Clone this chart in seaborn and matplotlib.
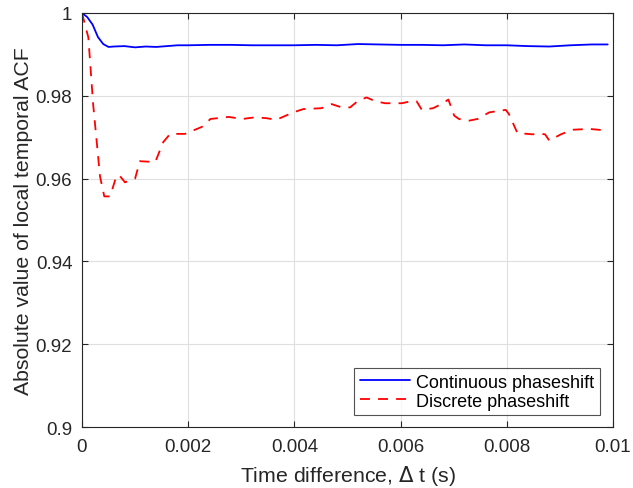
import numpy as np
import pandas as pd
import seaborn as sns
import matplotlib
matplotlib.use("Agg")
import matplotlib.pyplot as plt
from matplotlib.ticker import FuncFormatter

# ---- data ----
cont_t = [0.0, 0.0001, 0.0002, 0.0003, 0.0004, 0.0005, 0.0006, 0.0008, 0.0010,
          0.0012, 0.0014, 0.0016, 0.0018, 0.0020, 0.0024, 0.0028, 0.0032, 0.0036,
          0.0040, 0.0044, 0.0048, 0.0052, 0.0056, 0.0060, 0.0064, 0.0068, 0.0072,
          0.0076, 0.0080, 0.0084, 0.0088, 0.0092, 0.0096, 0.0099]
cont_v = [1.0, 0.9990, 0.9972, 0.9942, 0.9925, 0.9918, 0.9919, 0.9920, 0.9917,
          0.9919, 0.9918, 0.9920, 0.9922, 0.9922, 0.9923, 0.9923, 0.9922, 0.9922,
          0.9922, 0.9923, 0.9922, 0.9925, 0.9924, 0.9923, 0.9923, 0.9922, 0.9924,
          0.9922, 0.9922, 0.9920, 0.9919, 0.9922, 0.9924, 0.9924]

disc_t = [0.0, 0.00012, 0.00021, 0.00034, 0.00042, 0.00053, 0.00065, 0.00071,
          0.00081, 0.00100, 0.00109, 0.00138, 0.00153, 0.00166, 0.00194, 0.00226,
          0.00242, 0.00276, 0.00302, 0.00326, 0.00347, 0.00366, 0.00398, 0.00417,
          0.00451, 0.00470, 0.00489, 0.00505, 0.00520, 0.00536, 0.00552, 0.00571,
          0.00602, 0.00624, 0.00630, 0.00640, 0.00661, 0.00677, 0.00690, 0.00701,
          0.00710, 0.00729, 0.00745, 0.00767, 0.00798, 0.00804, 0.00820, 0.00848,
          0.00864, 0.00872, 0.00880, 0.00902, 0.00924, 0.00955, 0.00990]
disc_v = [1.0, 0.9941, 0.9780, 0.9605, 0.9557, 0.9557, 0.9607, 0.9607,
          0.9591, 0.9600, 0.9642, 0.9640, 0.9688, 0.9708, 0.9708, 0.9725,
          0.9744, 0.9749, 0.9744, 0.9748, 0.9746, 0.9742, 0.9760, 0.9768,
          0.9770, 0.9780, 0.9772, 0.9772, 0.9788, 0.9796, 0.9787, 0.9782,
          0.9782, 0.9788, 0.9787, 0.9766, 0.9770, 0.9780, 0.9791, 0.9752,
          0.9744, 0.9740, 0.9744, 0.9760, 0.9766, 0.9756, 0.9710, 0.9707,
          0.9708, 0.9707, 0.9692, 0.9707, 0.9718, 0.9720, 0.9716]

x_ticks = [0, 0.002, 0.004, 0.006, 0.008, 0.01]
y_ticks = [0.9, 0.92, 0.94, 0.96, 0.98, 1.0]

labels = ["Continuous phaseshift", "Discrete phaseshift"]

sns.set_theme(style="white")
plt.rcParams["font.family"] = ["Liberation Sans", "DejaVu Sans"]

fig = plt.figure(figsize=(6.33, 4.89), dpi=100)
ax = fig.add_axes([0.1295, 0.1247, 0.8389, 0.8467])

df_c = pd.DataFrame({"t": cont_t, "v": cont_v})
df_d = pd.DataFrame({"t": disc_t, "v": disc_v})
sns.lineplot(data=df_c, x="t", y="v", ax=ax, color="#0000ff", linewidth=1.3,
             label=labels[0])
sns.lineplot(data=df_d, x="t", y="v", ax=ax, color="#ff0000", linewidth=1.3,
             label=labels[1])
ax.lines[1].set_dashes([5.5, 4.5])

ax.set_xlim(0, 0.01)
ax.set_ylim(0.9, 1.0)
ax.set_xticks(x_ticks)
ax.set_yticks(y_ticks)
fmt = FuncFormatter(lambda v, p: "%g" % round(v, 6))
ax.xaxis.set_major_formatter(fmt)
ax.yaxis.set_major_formatter(fmt)
ax.grid(True, color="#dfdfdf", linewidth=0.8)
ax.set_axisbelow(True)
ax.tick_params(direction="in", length=4, width=0.8, colors="#262626",
               labelsize=13.5, top=True, right=True, bottom=True, left=True,
               labelcolor="#262626")
ax.tick_params(axis="y", pad=7)
ax.tick_params(axis="x", pad=8)
for s in ax.spines.values():
    s.set_color("#262626")
    s.set_linewidth(0.8)
ax.set_xlabel("Time difference, $\\Delta$ t (s)", fontsize=15.3, color="#262626",
              labelpad=6)
ax.set_ylabel("Absolute value of local temporal ACF", fontsize=15.3,
              color="#262626", labelpad=2)

leg = ax.legend(loc="lower right", fontsize=13, frameon=True, fancybox=False,
                edgecolor="#262626", handlelength=2.8, borderpad=0.3,
                labelspacing=0.1, handletextpad=0.35, borderaxespad=0,
                bbox_to_anchor=(0.9755, 0.029))
leg.get_frame().set_linewidth(0.8)
for t in leg.get_texts():
    t.set_color("#000000")

fig.savefig("out.png", dpi=100, facecolor="white")
